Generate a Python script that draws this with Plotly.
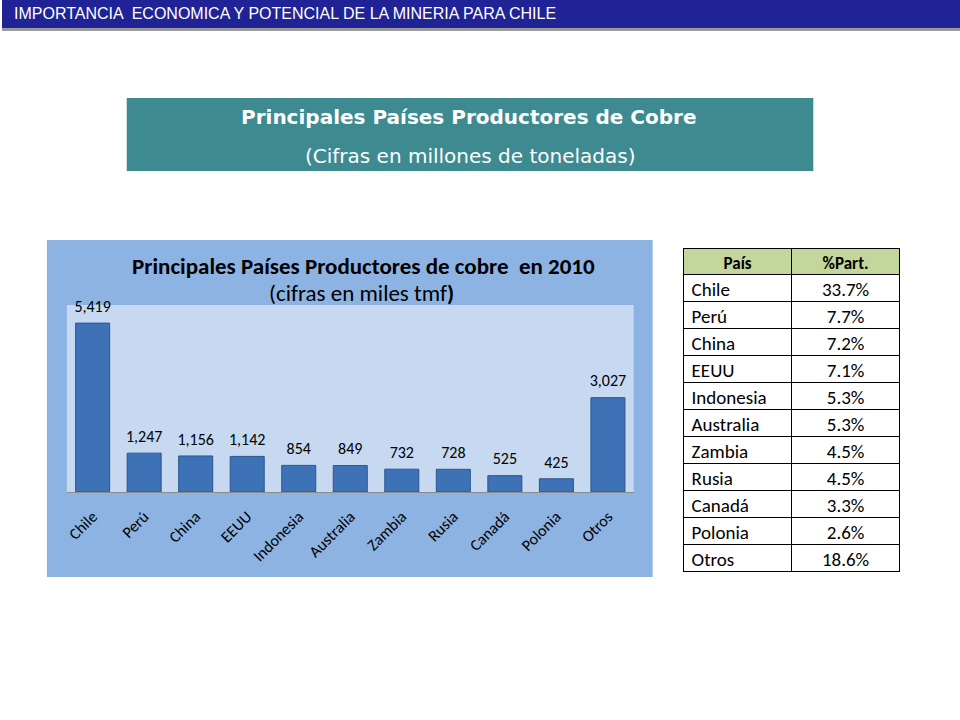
import plotly.graph_objects as go

# data
paises = ['Chile', 'Perú', 'China', 'EEUU', 'Indonesia', 'Australia',
          'Zambia', 'Rusia', 'Canadá', 'Polonia', 'Otros']
produccion = [5419, 1247, 1156, 1142, 854, 849, 732, 728, 525, 425, 3027]
participacion = ['33.7%', '7.7%', '7.2%', '7.1%', '5.3%', '5.3%',
                 '4.5%', '4.5%', '3.3%', '2.6%', '18.6%']

W, H = 960, 720


def px(x):
    return x / W


def py(y):
    return 1 - y / H


FONT = 'Carlito, Lato, sans-serif'

fig = go.Figure()

fig.add_trace(go.Bar(
    x=paises, y=produccion,
    marker=dict(color='#3e72b7', line=dict(color='#2b568e', width=1)),
    width=0.66, hoverinfo='x+y', showlegend=False,
))

# value labels, lifted a bit above the bars
fig.add_trace(go.Scatter(
    x=paises, y=produccion, mode='markers+text',
    marker=dict(size=10, opacity=0),
    text=[f'{v:,}' for v in produccion], textposition='top center',
    textfont=dict(family=FONT, size=16, color='black'),
    cliponaxis=False, hoverinfo='skip', showlegend=False,
))

fig.add_trace(go.Table(
    domain=dict(x=[px(683), px(900)], y=[py(585), py(248)]),
    columnwidth=[1, 1],
    header=dict(values=['País', '%Part.'],
                fill_color='#c3d69b', line=dict(color='black', width=1),
                align='center', height=26,
                font=dict(family=FONT, size=17, color='black', weight='bold')),
    cells=dict(values=[paises, participacion],
               fill_color='white', line=dict(color='black', width=1),
               align=['left', 'center'], height=27,
               font=dict(family=FONT, size=19, color='black')),
))

shapes = [
    # top banner
    dict(type='rect', xref='paper', yref='paper', x0=0, x1=1, y0=py(31), y1=py(28),
         fillcolor='#9a9a9a', line_width=0, layer='below'),
    dict(type='rect', xref='paper', yref='paper', x0=0, x1=1, y0=py(28), y1=1,
         fillcolor='#1f2396', line_width=0, layer='below'),
    # teal title box
    dict(type='rect', xref='paper', yref='paper', x0=px(125), x1=px(813), y0=py(171), y1=py(98),
         fillcolor='#3d8b90', line_width=0, layer='below'),
    # chart panel
    dict(type='rect', xref='paper', yref='paper', x0=px(45), x1=px(652), y0=py(577), y1=py(240),
         fillcolor='#8db3e2', line_width=0, layer='below'),
    # plot area
    dict(type='rect', xref='paper', yref='paper', x0=px(65), x1=px(633), y0=py(492), y1=py(305),
         fillcolor='#c6d9f1', line_width=0, layer='below'),
]


def note(text, x, y, size, family, color='black', xanchor='center'):
    return dict(text=text, xref='paper', yref='paper', x=px(x), y=py(y),
                xanchor=xanchor, yanchor='middle', showarrow=False,
                font=dict(family=family, size=size, color=color))


annotations = [
    note('IMPORTANCIA  ECONOMICA Y POTENCIAL DE LA MINERIA PARA CHILE', 10, 13, 16,
         'Liberation Sans Narrow, Liberation Sans, Arial', 'white', 'left'),
    note('<b>Principales Países Productores de Cobre</b>', 468, 117, 20, 'DejaVu Sans, sans-serif', 'white'),
    note('(Cifras en millones de toneladas)', 469, 156, 20, 'DejaVu Sans, sans-serif', 'white'),
    note('<b>Principales Países Productores de cobre  en 2010</b>', 362, 266, 23, FONT),
    note('(cifras en miles tmf<b>)</b>', 360, 293, 23, FONT),
]

fig.update_layout(
    width=W, height=H,
    margin=dict(l=0, r=0, t=0, b=0),
    paper_bgcolor='white', plot_bgcolor='rgba(0,0,0,0)',
    shapes=shapes, annotations=annotations,
    xaxis=dict(domain=[px(65), px(633)], range=[-0.5, 10.5], tickangle=-45,
               tickfont=dict(family=FONT, size=16, color='black'),
               showline=True, linecolor='#8c8c8c', linewidth=1,
               ticks='outside', ticklen=8, tickcolor='rgba(0,0,0,0)', showgrid=False),
    yaxis=dict(domain=[py(492), py(305)], range=[0, 6000],
               visible=False, showgrid=False),
    bargap=0.34,
)

fig.write_html('out.html', config={'displayModeBar': False},
               post_script="document.body.style.margin='0';")
